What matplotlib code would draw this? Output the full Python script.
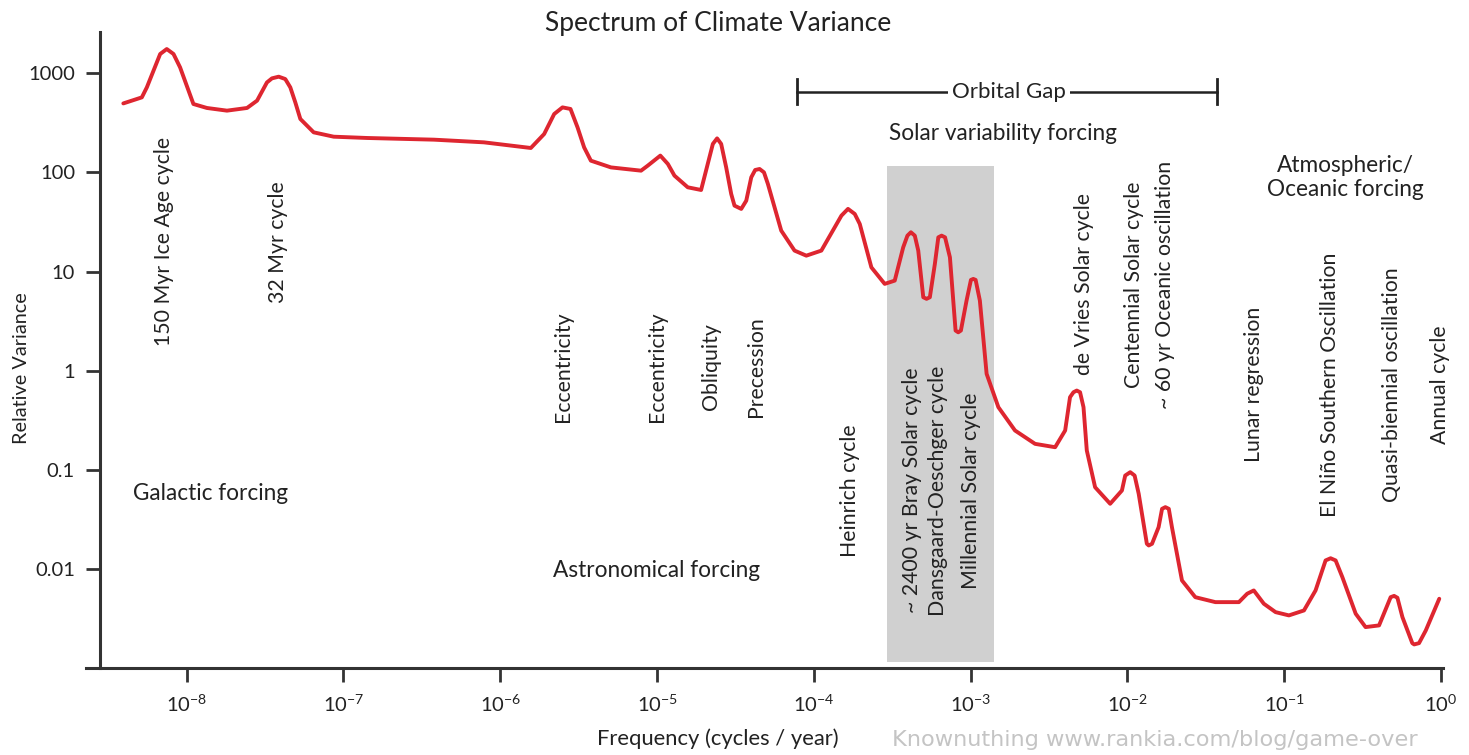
import numpy as np
import matplotlib
matplotlib.use("Agg")
import matplotlib.pyplot as plt

# -*- coding: utf-8 -*-
# spectrum (log10 of frequency, log10 of relative variance)
log_freq = [-8.404, -8.286, -8.254, -8.212, -8.169, -8.127, -8.084, -8.042, -7.988, -7.957,
            -7.871, -7.743, -7.615, -7.551, -7.488, -7.456, -7.413, -7.371, -7.339, -7.307,
            -7.275, -7.190, -7.062, -6.849, -6.423, -6.104, -5.901, -5.805, -5.720, -5.656,
            -5.603, -5.552, -5.507, -5.465, -5.422, -5.294, -5.102, -5.059, -4.979, -4.931,
            -4.889, -4.804, -4.719, -4.666, -4.644, -4.617, -4.591, -4.559, -4.527, -4.506,
            -4.463, -4.431, -4.399, -4.374, -4.346, -4.318, -4.293, -4.208, -4.123, -4.048,
            -3.952, -3.867, -3.824, -3.782, -3.739, -3.707, -3.633, -3.548, -3.484, -3.430,
            -3.403, -3.381, -3.356, -3.334, -3.302, -3.281, -3.260, -3.228, -3.206, -3.185,
            -3.163, -3.132, -3.096, -3.079, -3.062, -3.026, -2.998, -2.983, -2.968, -2.941,
            -2.898, -2.823, -2.717, -2.589, -2.461, -2.397, -2.366, -2.344, -2.323, -2.302,
            -2.280, -2.259, -2.206, -2.110, -2.035, -2.014, -1.982, -1.954, -1.928, -1.876,
            -1.864, -1.843, -1.801, -1.779, -1.758, -1.736, -1.716, -1.652, -1.567, -1.439,
            -1.289, -1.236, -1.194, -1.130, -1.055, -0.970, -0.874, -0.800, -0.736, -0.704,
            -0.672, -0.629, -0.544, -0.481, -0.395, -0.321, -0.299, -0.278, -0.246, -0.183,
            -0.171, -0.140, -0.097, -0.011]
log_var = [2.697, 2.758, 2.859, 3.027, 3.196, 3.246, 3.196, 3.061, 2.825, 2.691,
           2.651, 2.624, 2.651, 2.725, 2.909, 2.950, 2.967, 2.943, 2.859, 2.707,
           2.540, 2.405, 2.361, 2.348, 2.331, 2.304, 2.265, 2.247, 2.388, 2.590,
           2.657, 2.641, 2.455, 2.253, 2.119, 2.051, 2.018, 2.069, 2.170, 2.086,
           1.968, 1.850, 1.823, 2.152, 2.288, 2.344, 2.288, 2.051, 1.783, 1.665,
           1.632, 1.715, 1.951, 2.025, 2.035, 2.001, 1.884, 1.413, 1.211, 1.160,
           1.211, 1.446, 1.564, 1.632, 1.581, 1.480, 1.042, 0.875, 0.908, 1.244,
           1.362, 1.396, 1.362, 1.211, 0.740, 0.724, 0.740, 1.077, 1.345, 1.362,
           1.345, 1.143, 0.404, 0.386, 0.404, 0.706, 0.915, 0.925, 0.915, 0.706,
           -0.033, -0.370, -0.605, -0.740, -0.774, -0.605, -0.269, -0.219, -0.202, -0.219,
           -0.370, -0.807, -1.178, -1.345, -1.211, -1.060, -1.026, -1.060, -1.244, -1.749,
           -1.766, -1.749, -1.581, -1.396, -1.379, -1.396, -1.581, -2.119, -2.288, -2.338,
           -2.338, -2.253, -2.220, -2.354, -2.439, -2.472, -2.422, -2.220, -1.917, -1.895,
           -1.917, -2.086, -2.455, -2.590, -2.573, -2.288, -2.275, -2.294, -2.489, -2.752,
           -2.765, -2.752, -2.624, -2.304]

# named cycles and where they sit on the frequency axis
cycle_names = ["150 Myr Ice Age cycle", "32 Myr cycle",
               "Eccentricity", "Eccentricity", "Obliquity", "Precession",
               "Heinrich cycle", "~ 2400 yr Bray Solar cycle", "Dansgaard-Oeschger cycle",
               "Millennial Solar cycle",
               "de Vries Solar cycle", "Centennial Solar cycle", "~ 60 yr Oceanic oscillation",
               "Lunar regression", "El Niño Southern Oscillation", "Quasi-biennial oscillation",
               "Annual cycle"]
cycle_freq = [7.2e-9, 3.8e-8, 2.5e-6, 1.0e-5, 2.2e-5, 4.3e-5, 1.69e-4, 4.2e-4, 6.2e-4,
              1.01e-3, 5.3e-3, 1.1e-2, 1.73e-2, 0.064, 0.197, 0.49, 0.99]

# orbital gap and solar band (cycles / year)
orbital_gap = [7.86e-5, 0.0373]
solar_band = [2.95e-4, 1.40e-3]

yticks = [0.01, 0.1, 1, 10, 100, 1000]
ytick_labels = ["0.01", "0.1", "1", "10", "100", "1000"]
xticks = [1e-8, 1e-7, 1e-6, 1e-5, 1e-4, 1e-3, 1e-2, 1e-1, 1e0]
xtick_labels = [r"$10^{-8}$", r"$10^{-7}$", r"$10^{-6}$", r"$10^{-5}$", r"$10^{-4}$",
                r"$10^{-3}$", r"$10^{-2}$", r"$10^{-1}$", r"$10^{0}$"]

FONT = ["Lato", "DejaVu Sans"]
plt.rcParams['font.family'] = FONT
plt.rcParams['mathtext.fontset'] = 'custom'
plt.rcParams['mathtext.rm'] = 'Lato'
plt.rcParams['mathtext.default'] = 'regular'
TXT = '#222222'

W, H = 1469, 755
fig = plt.figure(figsize=(W / 100, H / 100), dpi=100)
ax = fig.add_axes([86 / W, 87.3 / H, (1443 - 86) / W, (722.7 - 87.3) / H])
ax.set_xscale('log')
ax.set_yscale('log')
ax.set_xlim(2.28e-9, 1.03)
ax.set_ylim(1e-3, 2.6e3)

# grey solar variability box
ax.fill_between(solar_band, 1.13e-3, 117, color='#d0d0d0', lw=0, zorder=1)

freq = 10.0 ** np.array(log_freq)
var = 10.0 ** np.array(log_var)
ax.plot(freq, var, color='#de2630', lw=2.8, solid_joinstyle='round',
        solid_capstyle='round', zorder=3)

# spines / ticks
for s in ['top', 'right']:
    ax.spines[s].set_visible(False)
ax.spines['left'].set_position(('data', 2.8e-9))
for s in ['left', 'bottom']:
    ax.spines[s].set_linewidth(2.2)
    ax.spines[s].set_color('#333333')
ax.set_yticks(yticks)
ax.set_yticklabels(ytick_labels)
ax.set_xticks(xticks)
ax.set_xticklabels(xtick_labels)
ax.minorticks_off()
ax.tick_params(axis='both', direction='out', length=10, width=2, color='#333333',
               labelsize=14.5, labelcolor=TXT)
ax.tick_params(axis='y', pad=8)
ax.tick_params(axis='x', pad=9)

# cycle labels (vertical)
label_y = [20, 20, 1.1, 1.1, 1.1, 1.1, 0.0615, 0.0615, 0.0615, 0.0615,
           7.4, 7.4, 7.4, 0.72, 0.72, 0.72, 0.72]
for name, f, y in zip(cycle_names, cycle_freq, label_y):
    ax.text(f, y, name, rotation=90, ha='center', va='center', fontsize=15.3,
            color=TXT, zorder=5)

# orbital gap bracket
gap_y = 653
ax.plot(orbital_gap, [gap_y, gap_y], color=TXT, lw=1.8, zorder=4)
for gx in orbital_gap:
    ax.plot([gx, gx], [489, 873], color=TXT, lw=2, zorder=4)
ax.text(1.75e-3, gap_y, "Orbital Gap", ha='center', va='center', fontsize=16,
        color=TXT, zorder=5,
        bbox=dict(facecolor='white', edgecolor='none', pad=3))

ax.text(1.6e-3, 247, "Solar variability forcing", ha='center', va='center',
        fontsize=16.3, color=TXT)
ax.text(0.245, 89, "Atmospheric/\nOceanic forcing", ha='center', va='center',
        fontsize=16.3, color=TXT, linespacing=1.2)
ax.text(1.41e-8, 0.0574, "Galactic forcing", ha='center', va='center',
        fontsize=16.3, color=TXT)
ax.text(9.9e-6, 0.0096, "Astronomical forcing", ha='center', va='center',
        fontsize=16.3, color=TXT)

fig.text(718 / W, 1 - 24 / H, "Spectrum of Climate Variance", ha='center', va='center',
         fontsize=19, color=TXT)
fig.text(22 / W, 1 - 368 / H, "Relative Variance", rotation=90, ha='center', va='center',
         fontsize=14.3, color=TXT)
fig.text(718 / W, 1 - 739 / H, "Frequency (cycles / year)", ha='center', va='center',
         fontsize=15.8, color=TXT)
fig.text(1155 / W, 1 - 740 / H, "Knownuthing www.rankia.com/blog/game-over", ha='center',
         va='center', fontsize=16.2, color='#c4c4c4',
         family=['Liberation Sans Narrow', 'DejaVu Sans'])

fig.savefig('out.png', dpi=100, facecolor='white')
